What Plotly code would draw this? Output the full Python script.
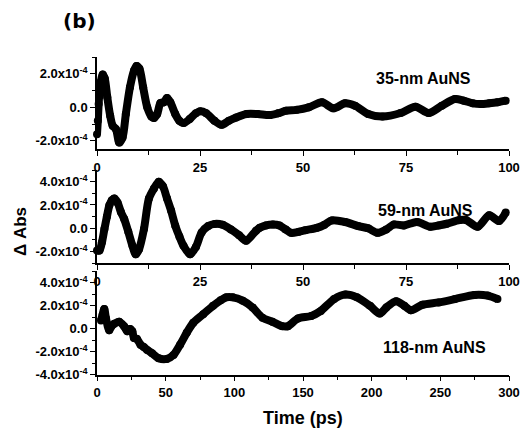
import numpy as np
import plotly.graph_objects as go

# Transient absorption traces (ΔAbs in units of 1e-4) versus delay time (ps)
t_35 = [0.0, 0.2, 0.4, 0.6, 0.9, 1.4, 1.9, 2.5, 3.2, 3.8, 4.6, 5.4, 6.2, 7.0, 8.0, 9.0, 9.6, 10.3,
        11.2, 12.2, 13.2, 13.8, 14.6, 15.4, 16.2, 17.0, 17.8, 19.0, 20.0, 21.0, 22.5, 24.0, 25.0,
        26.5, 28.5, 30.2, 32.0, 33.8, 36.3, 39.0, 41.9, 44.0, 45.9, 48.5, 51.4, 54.6, 57.4, 60.2,
        62.6, 65.8, 69.3, 73.7, 77.3, 80.5, 83.7, 86.9, 89.0, 91.2, 93.2, 95.2, 97.2, 99.2]
abs_35 = [-1.6, -0.8, 0.2, 0.9, 1.5, 1.96, 1.7, 0.6, -0.5, -1.1, -1.3, -2.1, -1.8, -0.4, 1.2, 2.2,
          2.46, 2.3, 1.2, 0.0, -0.55, -0.64, -0.4, 0.26, 0.3, 0.56, 0.3, -0.4, -0.8, -0.94, -0.7,
          -0.35, -0.24, -0.35, -0.8, -1.04, -0.8, -0.6, -0.4, -0.4, -0.46, -0.35, -0.2, -0.15, 0.0,
          0.3, -0.06, 0.24, 0.1, -0.4, -0.55, -0.34, 0.04, -0.34, 0.1, 0.5, 0.4, 0.24, 0.2, 0.24,
          0.3, 0.4]

t_59 = [0.0, 0.6, 1.2, 1.8, 2.4, 3.0, 3.6, 4.2, 5.0, 5.8, 6.6, 7.6, 8.6, 9.4, 10.2, 11.4, 12.6,
        13.8, 15.0, 16.0, 17.0, 18.0, 19.0, 20.0, 21.0, 22.6, 24.0, 25.4, 27.0, 28.6, 30.5, 32.5,
        34.5, 36.2, 38.6, 39.5, 41.0, 42.7, 44.3, 45.8, 47.1, 49.0, 50.6, 53.4, 55.2, 57.0, 60.2,
        63.4, 65.8, 68.1, 70.2, 72.1, 74.5, 77.7, 80.9, 82.9, 84.9, 88.0, 89.6, 92.4, 95.2, 97.6,
        99.2]
abs_59 = [-1.9, -1.9, -1.2, -0.06, 1.0, 1.97, 2.4, 2.55, 2.2, 1.4, 0.8, -0.3, -1.5, -2.23, -1.8,
          -0.06, 2.55, 3.4, 4.0, 3.6, 2.55, 1.5, 0.23, -0.7, -1.5, -2.23, -1.6, -0.35, 0.2, 0.38,
          0.3, -0.1, -0.6, -1.07, -0.2, 0.04, 0.25, 0.33, 0.25, -0.1, -0.39, -0.3, -0.16, 0.04,
          0.3, 0.68, 0.54, 0.19, 0.0, -0.39, -0.1, 0.33, 0.25, 0.54, 0.13, 0.25, 0.39, 0.71, 0.71,
          0.13, 1.12, 0.62, 1.35]

t_118 = [2.9, 4.1, 5.3, 6.5, 8.9, 10.5, 12.5, 16.1, 19.7, 22.1, 24.0, 25.7, 26.9, 29.0, 31.7,
         34.0, 36.5, 40.1, 44.9, 50.9, 55.7, 60.5, 65.3, 70.1, 77.3, 84.5, 90.0, 94.1, 98.9,
         106.1, 113.3, 120.5, 127.7, 134.9, 139.0, 146.4, 156.0, 163.0, 172.6, 180.9, 189.3,
         198.8, 205.9, 210.7, 217.8, 223.8, 228.5, 236.9, 248.8, 260.7, 274.9, 284.5, 291.6]
abs_118 = [0.7, 1.2, 1.7, 0.9, -0.15, 0.2, 0.41, 0.59, 0.2, -0.24, -0.05, -0.24, -0.82, -0.9,
           -1.41, -1.6, -1.86, -2.15, -2.59, -2.65, -2.3, -1.41, -0.38, 0.5, 1.24, 1.97, 2.45,
           2.71, 2.71, 2.42, 1.83, 0.94, 0.59, 0.2, 0.2, 0.88, 1.09, 1.53, 2.56, 2.95, 2.71, 1.97,
           1.3, 1.83, 2.36, 1.97, 1.59, 2.06, 2.27, 2.56, 2.92, 2.86, 2.56]

labels = ["35-nm AuNS", "59-nm AuNS", "118-nm AuNS"]
SCALE = 1e-4

# y tick values (units of 1e-4) and x tick values
y_ticks_1 = [-2, 0, 2]
y_ticks_2 = [-2, 0, 2, 4]
y_ticks_3 = [-4, -2, 0, 2, 4]
x_ticks_short = [0, 25, 50, 75, 100]
x_ticks_long = [0, 50, 100, 150, 200, 250, 300]


def ylabel(v):
    if v == 0:
        return "0.0"
    return f"{v:.1f}x10<sup>-4</sup>"


W, H = 531, 436
FONT = "Liberation Sans, Arial, sans-serif"
x_left, x_right = 97 / W, 509 / W
panels = [
    # (times, values, y-range in 1e-4, y ticks, x ticks, x range, x minor step, panel top/bottom px)
    (t_35, abs_35, (-2.5, 3.0), y_ticks_1, x_ticks_short, (0, 100), 12.5, (57, 149.3)),
    (t_59, abs_59, (-3.0, 5.0), y_ticks_2, x_ticks_short, (0, 100), 12.5, (170, 263.3)),
    (t_118, abs_118, (-4.0, 5.0), y_ticks_3, x_ticks_long, (0, 300), 25, (271, 374.5)),
]

fig = go.Figure()
for i, (t, a, yr, yt, xt, xr, xminor, (ptop, pbot)) in enumerate(panels, start=1):
    xa = "x" if i == 1 else f"x{i}"
    ya = "y" if i == 1 else f"y{i}"
    fig.add_trace(go.Scatter(
        x=t, y=np.array(a) * SCALE, xaxis=xa, yaxis=ya, mode="lines+markers",
        line=dict(color="black", width=8, shape="spline", smoothing=0.8),
        marker=dict(color="black", size=8), showlegend=False, cliponaxis=False,
    ))
    axis_common = dict(
        showline=True, linecolor="black", linewidth=1.5, showgrid=False, zeroline=False,
        automargin=False, ticks="outside", ticklen=5, tickwidth=1.3, tickcolor="black",
        tickfont=dict(family=FONT, size=13, color="black", weight="bold"),
    )
    fig.update_layout(**{
        ("xaxis" if i == 1 else f"xaxis{i}"): dict(
            domain=[x_left, x_right], range=list(xr), anchor=ya,
            tickvals=xt, ticktext=[str(v) for v in xt],
            minor=dict(dtick=xminor, tick0=0, ticks="outside", ticklen=3.5,
                       tickwidth=1.2, tickcolor="black", showgrid=False),
            **axis_common),
        ("yaxis" if i == 1 else f"yaxis{i}"): dict(
            domain=[1 - pbot / H, 1 - ptop / H], range=[yr[0] * SCALE, yr[1] * SCALE],
            anchor=xa, tickvals=[v * SCALE for v in yt], ticktext=[ylabel(v) for v in yt],
            minor=dict(dtick=SCALE, tick0=0, ticks="outside", ticklen=3.5,
                       tickwidth=1.2, tickcolor="black", showgrid=False),
            **axis_common),
    })

annotations = [
    dict(text=labels[0], x=423 / W, y=1 - 78 / H),
    dict(text=labels[1], x=425 / W, y=1 - 210 / H),
    dict(text=labels[2], x=434 / W, y=1 - 347 / H),
]
for ann in annotations:
    fig.add_annotation(xref="paper", yref="paper", showarrow=False,
                       xanchor="center", yanchor="middle",
                       font=dict(family=FONT, size=16, color="black", weight="bold"), **ann)

fig.add_annotation(text="(b)", xref="paper", yref="paper", x=79 / W, y=1 - 21 / H,
                   xanchor="center", yanchor="middle", showarrow=False,
                   font=dict(family="DejaVu Sans, sans-serif", size=20, color="black",
                             weight="bold"))
fig.add_annotation(text="Time (ps)", xref="paper", yref="paper", x=303 / W, y=1 - 418 / H,
                   xanchor="center", yanchor="middle", showarrow=False,
                   font=dict(family=FONT, size=18, color="black", weight="bold"))
fig.add_annotation(text="Δ Abs", xref="paper", yref="paper", x=20 / W, y=1 - 232 / H,
                   xanchor="center", yanchor="middle", textangle=-90, showarrow=False,
                   font=dict(family=FONT, size=17, color="black", weight="bold"))

fig.update_layout(template="none", width=W, height=H, autosize=False,
                  margin=dict(l=0, r=0, t=0, b=0, autoexpand=False),
                  paper_bgcolor="white", plot_bgcolor="white")

fig.write_html("out.html")
